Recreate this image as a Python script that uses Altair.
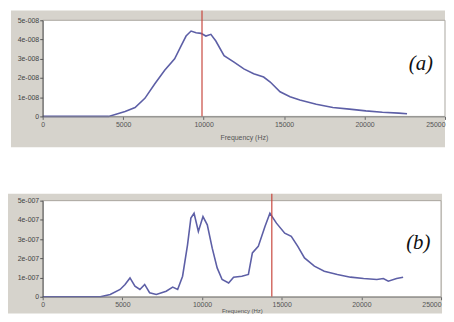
import altair as alt
import pandas as pd

# Panel (a)
freq_a = [0, 4100, 5120, 5740, 6350, 6970, 7580, 8200, 8600, 8910, 9220, 9530, 9840,
          10140, 10450, 10760, 11270, 11890, 12500, 13110, 13730, 14140, 14750, 15370,
          15980, 17000, 18030, 19060, 20080, 21110, 22130, 22640]
amp_a = [0, 0, 0.26e-8, 0.46e-8, 0.94e-8, 1.7e-8, 2.4e-8, 3.0e-8, 3.67e-8, 4.18e-8, 4.44e-8,
         4.35e-8, 4.32e-8, 4.18e-8, 4.27e-8, 3.92e-8, 3.16e-8, 2.82e-8, 2.47e-8, 2.22e-8,
         2.05e-8, 1.79e-8, 1.28e-8, 1.02e-8, 0.85e-8, 0.63e-8, 0.46e-8, 0.38e-8, 0.29e-8,
         0.22e-8, 0.17e-8, 0.14e-8]
marker_a = 9900
yticks_a = [0, 1e-8, 2e-8, 3e-8, 4e-8, 5e-8]
ylabels_a = ["0", "1e-008", "2e-008", "3e-008", "4e-008", "5e-008"]

# Panel (b)
freq_b = [0, 3620, 4240, 4860, 5170, 5480, 5790, 6100, 6400, 6710, 7130, 7750, 8160, 8470,
          8780, 9090, 9300, 9500, 9770, 10060, 10330, 10640, 10950, 11260, 11670, 11980,
          12500, 12910, 13160, 13530, 13950, 14260, 14670, 15190, 15600, 16010, 16430,
          17050, 17670, 18490, 19320, 20140, 20970, 21380, 21690, 22210, 22620]
amp_b = [0, 0, 0.12e-7, 0.38e-7, 0.64e-7, 0.98e-7, 0.55e-7, 0.38e-7, 0.64e-7, 0.21e-7,
         0.12e-7, 0.29e-7, 0.5e-7, 0.38e-7, 1.07e-7, 2.7e-7, 4.09e-7, 4.34e-7, 3.4e-7,
         4.17e-7, 3.74e-7, 2.53e-7, 1.5e-7, 0.9e-7, 0.72e-7, 1.02e-7, 1.07e-7, 1.16e-7,
         2.28e-7, 2.62e-7, 3.66e-7, 4.34e-7, 3.83e-7, 3.31e-7, 3.14e-7, 2.62e-7, 2.02e-7,
         1.59e-7, 1.33e-7, 1.16e-7, 1.02e-7, 0.95e-7, 0.9e-7, 0.95e-7, 0.81e-7, 0.95e-7,
         1.02e-7]
marker_b = 14380
yticks_b = [0, 1e-7, 2e-7, 3e-7, 4e-7, 5e-7]
ylabels_b = ["0", "1e-007", "2e-007", "3e-007", "4e-007", "5e-007"]

xticks = [0, 5000, 10000, 15000, 20000, 25000]
x_title = "Frequency (Hz)"
panel_labels = ["(a)", "(b)"]
label_pos_a = (23500, 2.73e-8)
label_pos_b = (23570, 2.78e-7)

GRAY = "#d6d3cc"
LINE = "#5d5fa6"
RED = "#c8483f"
FONT = "Liberation Sans"


def label_expr(vals, labels):
    step = vals[1] - vals[0]
    arr = ",".join(f"'{l}'" for l in labels)
    return f"[{arr}][round(datum.value / {step:.15f})]"


def panel(freq, amp, marker, yticks, ylabels, label, lpos, w, h, left, top, right, bottom,
          title_size, title_pad):
    df = pd.DataFrame({"f": freq, "a": amp})
    one = pd.DataFrame({"k": [0]})
    xs = alt.Scale(domain=[0, 25000], nice=False)
    ys = alt.Scale(domain=[0, yticks[-1]], nice=False)
    xaxis = alt.Axis(values=xticks, tickCount=12, format="d", title=x_title, zindex=1,
                     labelFont=FONT, labelFontSize=7, labelColor="#555",
                     labelAlign={"condition": {"test": f"datum.value >= {xticks[-1]}",
                                               "value": "right"}, "value": "center"},
                     titleFont=FONT, titleFontSize=title_size, titleColor="#555",
                     titleFontWeight="normal", tickSize=3, tickColor="#666",
                     domainColor="#888", labelPadding=1, titlePadding=title_pad,
                     grid=False, labelFlush=False, labelOverlap=False)
    yaxis = alt.Axis(values=yticks, tickCount=12, title=None, zindex=1,
                     labelExpr=label_expr(yticks, ylabels),
                     labelFont=FONT, labelFontSize=7, labelColor="#444",
                     tickSize=3, tickColor="#555", domainColor="#555",
                     labelPadding=1, grid=False, labelOverlap=False, labelFlush=False)
    bg = alt.Chart(one).mark_rect(color=GRAY, clip=False).encode(
        x=alt.value(-left), x2=alt.value(w + right),
        y=alt.value(-top), y2=alt.value(h + bottom))
    plotbg = alt.Chart(one).mark_rect(color="white", stroke="#a9a69f", strokeWidth=1).encode(
        x=alt.value(0), x2=alt.value(w), y=alt.value(0), y2=alt.value(h))
    line = alt.Chart(df).mark_line(color=LINE, strokeWidth=1.6).encode(
        x=alt.X("f:Q", scale=xs, axis=xaxis),
        y=alt.Y("a:Q", scale=ys, axis=yaxis))
    rule = alt.Chart(pd.DataFrame({"m": [marker]})).mark_rule(color=RED, strokeWidth=1.2).encode(
        x=alt.X("m:Q", scale=xs), y=alt.value(-top), y2=alt.value(h))
    txt = alt.Chart(pd.DataFrame({"t": [label], "x": [lpos[0]], "y": [lpos[1]]})).mark_text(
        font="Liberation Serif", fontStyle="italic", fontSize=21, color="#111").encode(
        x=alt.X("x:Q", scale=xs), y=alt.Y("y:Q", scale=ys), text="t:N")
    return alt.layer(bg, plotbg, line, rule, txt).properties(width=w, height=h)


top = panel(freq_a, amp_a, marker_a, yticks_a, ylabels_a, panel_labels[0], label_pos_a,
            406, 97, 32, 10, 0, 31, 7, 6)
bot = panel(freq_b, amp_b, marker_b, yticks_b, ylabels_b, panel_labels[1], label_pos_b,
            402, 97, 35, 7, 1, 17, 6, 0)

chart = alt.vconcat(top, bot, spacing=46).properties(
    padding={"left": 0, "top": 0, "right": 0, "bottom": 0}, background="white"
).configure_view(stroke=None)

chart.save("out.html", embed_options={"renderer": "svg", "actions": False})
